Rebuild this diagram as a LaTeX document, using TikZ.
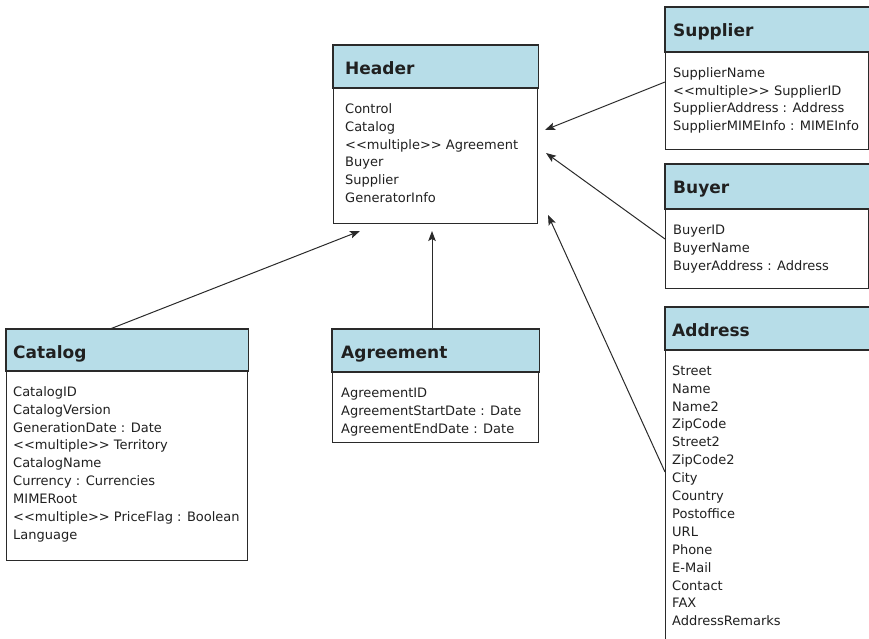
\documentclass[tikz,border=0pt]{standalone}
\usepackage{fontspec}
\setmainfont{DejaVu Sans}
\usetikzlibrary{arrows.meta}
\definecolor{bandblue}{HTML}{B7DDE8}
\definecolor{lineclr}{HTML}{2A2A2A}
\definecolor{txtclr}{HTML}{202020}
\tikzset{
  classbox/.style={draw=lineclr, line width=1.4pt, fill=white, inner sep=0pt, rectangle},
  band/.style={draw=lineclr, line width=1.4pt, fill=bandblue},
  titletext/.style={inner sep=0pt, font=\fontsize{17}{20}\selectfont\bfseries, text=txtclr},
  bodytext/.style={inner sep=0pt, align=left, font=\fontsize{13}{17.9}\selectfont, text=txtclr},
  conn/.style={draw=lineclr, line width=1pt, -{Stealth[length=10pt,width=7.5pt,inset=2pt]}},
}
% name, x, y, w, h, bandh, title, body, text offset
\newcommand\umlclass[9]{%
  \node[classbox, minimum width=#4pt, minimum height=#5pt, anchor=north west] (#1) at (#2,#3) {};
  \draw[band] (#1.north west) rectangle ([yshift=-#6pt]#1.north east);
  \node[titletext, anchor=base west] (#1-title) at ([xshift=#9pt,yshift=-29.5pt]#1.north west) {#7};
  \node[bodytext, anchor=north west] (#1-body) at ([xshift=#9pt,yshift=-#6pt-15pt]#1.north west) {\rule{0pt}{10pt}#8};
}
\begin{document}
\begin{tikzpicture}[x=1pt,y=-1pt]
\useasboundingbox (0,0) rectangle (869,639);
\clip (0,0) rectangle (869,639);
\umlclass{header}{333}{45}{204}{178}{43}{Header}{Control\\Catalog\\<{}<multiple>{}> Agreement\\Buyer\\Supplier\\GeneratorInfo}{12}
\umlclass{supplier}{665}{7}{203}{142}{45}{Supplier}{SupplierName\\<{}<multiple>{}> SupplierID\\SupplierAddress : Address\\SupplierMIMEInfo : MIMEInfo}{8}
\umlclass{buyer}{665}{164}{203}{124}{45}{Buyer}{BuyerID\\BuyerName\\BuyerAddress : Address}{8}
\umlclass{address}{665}{307}{230}{360}{43}{Address}{Street\\Name\\Name2\\ZipCode\\Street2\\ZipCode2\\City\\Country\\Postoffice\\URL\\Phone\\E-Mail\\Contact\\FAX\\AddressRemarks}{7}
\umlclass{catalog}{6}{329}{241}{231}{42}{Catalog}{CatalogID\\CatalogVersion\\GenerationDate : Date\\<{}<multiple>{}> Territory\\CatalogName\\Currency : Currencies\\MIMERoot\\<{}<multiple>{}> PriceFlag : Boolean\\Language}{7}
\umlclass{agreement}{332}{329}{206}{113}{43}{Agreement}{AgreementID\\AgreementStartDate : Date\\AgreementEndDate : Date}{9}
\coordinate (tipCat) at (360,231);
\coordinate (tipAgr) at (432,231);
\coordinate (tipSup) at (545,130);
\coordinate (tipBuy) at (546,153);
\coordinate (tipAdr) at (548,215);
\coordinate (catStart) at (110,329);
\coordinate (agrStart) at (432,329);
\coordinate (supStart) at (665,82);
\coordinate (buyStart) at (665,239);
\coordinate (adrStart) at (665,472);
\draw[conn] (catStart) -- (tipCat);
\draw[conn] (agrStart) -- (tipAgr);
\draw[conn] (supStart) -- (tipSup);
\draw[conn] (buyStart) -- (tipBuy);
\draw[conn] (adrStart) -- (tipAdr);
\end{tikzpicture}
\end{document}
